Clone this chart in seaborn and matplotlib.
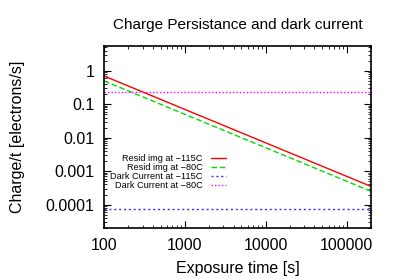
import pandas as pd
import seaborn as sns
import matplotlib.pyplot as plt

# values
exposure = [100, 1000, 10000, 100000, 200000]
resid_115 = [0.7, 0.07, 0.007, 0.0007, 0.00035]
resid_80 = [0.5, 0.05, 0.005, 0.0005, 0.00025]
dark_115 = [7.6e-5] * len(exposure)
dark_80 = [0.24] * len(exposure)

labels = ["Resid img at \u2212115C", "Resid img at \u221280C",
          "Dark Current at \u2212115C", "Dark Current at \u221280C"]
colors = ["#ff0000", "#00dd00", "#3333ff", "#ff00ff"]
dashes = [(None, None), (4, 2), (1.5, 2), (1, 1.5)]

df = pd.concat([
    pd.DataFrame({"t": exposure, "v": vals, "series": lab})
    for vals, lab in zip([resid_115, resid_80, dark_115, dark_80], labels)
])

sns.set_style("ticks")
plt.rcParams["font.family"] = ["Liberation Sans", "DejaVu Sans"]
plt.rcParams["xtick.direction"] = "in"
plt.rcParams["ytick.direction"] = "in"
plt.rcParams["text.color"] = "black"
plt.rcParams["axes.labelcolor"] = "black"
plt.rcParams["xtick.color"] = "black"
plt.rcParams["ytick.color"] = "black"
plt.rcParams["axes.edgecolor"] = "black"

fig = plt.figure(figsize=(3.99, 2.79), dpi=100)
ax = fig.add_axes([104 / 399, 1 - 228 / 279, 267 / 399, 182 / 279])

for lab, col, d in zip(labels, colors, dashes):
    sub = df[df["series"] == lab]
    sns.lineplot(data=sub, x="t", y="v", ax=ax, color=col, linewidth=1, label=lab)
    if d[0] is not None:
        ax.lines[-1].set_dashes(d)

ax.set_xscale("log")
ax.set_yscale("log")
ax.set_xlim(100, 200000)
ax.set_ylim(2e-5, 5.5)
ax.set_xticks([100, 1000, 10000, 100000])
ax.set_xticklabels(["100", "1000", "10000", "100000"])
ax.set_yticks([1, 0.1, 0.01, 0.001, 0.0001])
ax.set_yticklabels(["1", "0.1", "0.01", "0.001", "0.0001"])
ax.tick_params(which="both", top=True, right=True, labelsize=11.5, pad=7)
ax.tick_params(which="major", length=5)
ax.tick_params(which="minor", length=2.5)
for s in ax.spines.values():
    s.set_linewidth(1.2)

ax.set_xlabel("Exposure time [s]", fontsize=11.5, labelpad=6)
ax.set_ylabel("Charge/t [electrons/s]", fontsize=11.5, labelpad=15)
ax.set_title("Charge Persistance and dark current", fontsize=11, pad=12)

ax.legend(loc="upper left", bbox_to_anchor=(0.0, 0.44), frameon=False, markerfirst=False,
          fontsize=6.6, handlelength=1.6, labelspacing=0.0, borderaxespad=0.3,
          handletextpad=0.9)
for t in ax.get_legend().get_texts():
    t.set_ha("right")
ax.get_legend()._legend_box.align = "right"

fig.savefig("out.png", dpi=100)
